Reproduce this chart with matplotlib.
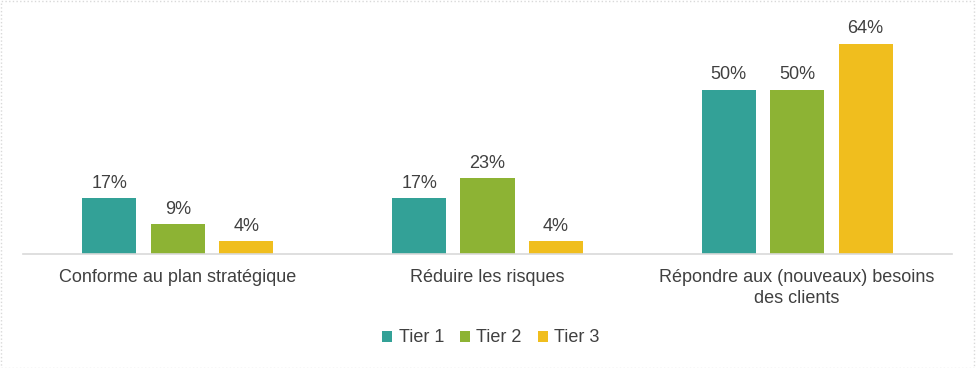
import numpy as np
import matplotlib.pyplot as plt
from matplotlib.patches import Rectangle

categories = ['Conforme au plan stratégique', 'Réduire les risques',
              'Répondre aux (nouveaux) besoins\ndes clients']
series = ['Tier 1', 'Tier 2', 'Tier 3']
tier1 = [17, 17, 50]
tier2 = [9, 23, 50]
tier3 = [4, 4, 64]
colors = ['#33A197', '#8DB334', '#F0BE1E']

plt.rcParams['font.family'] = ['Liberation Sans', 'DejaVu Sans']
txt = '#404040'
fs = 13

fig = plt.figure(figsize=(9.76, 3.68), dpi=100)
ax = fig.add_axes([23 / 976, 114 / 368, 929 / 976, 230 / 368])

index = np.arange(len(categories))
bar_width = 0.175
step = 0.221
for i, (vals, c, lab) in enumerate(zip([tier1, tier2, tier3], colors, series)):
    pos = index + (i - 1) * step
    ax.bar(pos, vals, bar_width, color=c, label=lab)
    for x, v in zip(pos, vals):
        ax.text(x, v + 1.9, '{}%'.format(v), ha='center', va='bottom',
                fontsize=fs, color=txt)

ax.set_xlim(-0.5, 2.5)
ax.set_ylim(0, 70)
ax.set_yticks([])
ax.set_xticks(index)
ax.set_xticklabels(categories, fontsize=fs, color=txt, linespacing=1.25)
ax.tick_params(axis='x', length=0, pad=11)
for s in ['top', 'right', 'left']:
    ax.spines[s].set_visible(False)
ax.spines['bottom'].set_color('#D9D9D9')
ax.spines['bottom'].set_linewidth(1.2)

ax.legend(loc='center', bbox_to_anchor=(491 / 976, 1 - 338 / 368),
          bbox_transform=fig.transFigure, ncol=3, frameon=False,
          fontsize=fs, handlelength=0.55, handleheight=0.55,
          handletextpad=0.35, columnspacing=0.9, labelcolor=txt)

fig.patches.append(Rectangle((0.001, 0.001), 0.997, 0.996, transform=fig.transFigure,
                             fill=False, edgecolor='#D9D9D9', linewidth=1, linestyle=':'))

fig.savefig('out.png', dpi=100)
